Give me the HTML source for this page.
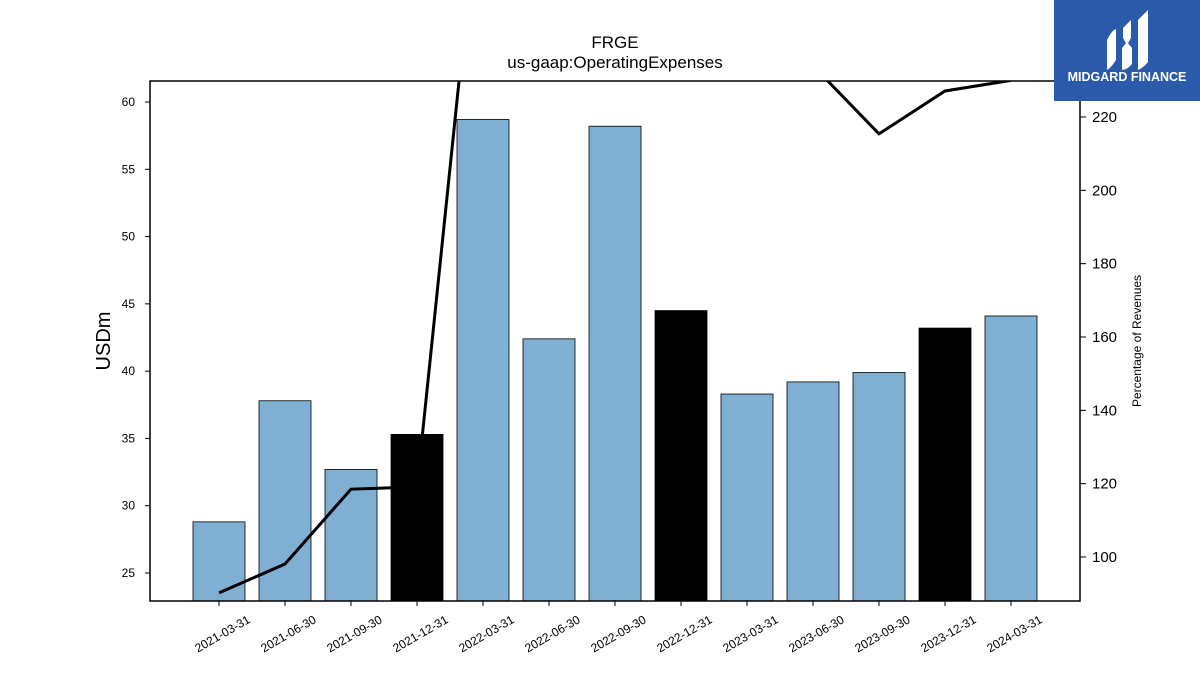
<!DOCTYPE html>
<html><head><meta charset="utf-8"><style>
html,body{margin:0;padding:0;background:#fff;}
svg{display:block;font-family:"Liberation Sans","DejaVu Sans",sans-serif;}
</style></head><body>
<svg id="chart" width="1200" height="675" viewBox="0 0 1200 675" xmlns="http://www.w3.org/2000/svg">
<defs><clipPath id="plotclip"><rect x="150" y="81" width="930" height="520"/></clipPath></defs>
<text x="615" y="48" text-anchor="middle" font-size="17">FRGE</text>
<text x="615" y="68" text-anchor="middle" font-size="17">us-gaap:OperatingExpenses</text>
<g id="bars"></g>
<g id="line" clip-path="url(#plotclip)"></g>
<rect x="150" y="81" width="930" height="520" fill="none" stroke="#000" stroke-width="1.5"/>
<g id="ticks"></g>
<text transform="translate(110,341) rotate(-90)" text-anchor="middle" font-size="20">USDm</text>
<text transform="translate(1141,341) rotate(-90)" text-anchor="middle" font-size="12">Percentage of Revenues</text>
<g>
<rect x="1054" y="0" width="146" height="101" fill="#2c5aab"/>
<path d="M1107,40 Q1112,30 1116,29 L1116,60 Q1111,68 1107,70 Z" fill="#fff"/>
<path d="M1123,28 L1131,20 L1131,38 L1127,45 L1123,38 Z" fill="#fff"/>
<path d="M1122,48 L1127,42 L1132,48 L1132,64 Q1127,70 1122,70 Z" fill="#fff"/>
<path d="M1138,20 L1148,10 L1148,62 Q1143,68 1138,70 Z" fill="#fff"/>
<text x="1127" y="81" text-anchor="middle" font-size="12.5" font-weight="bold" fill="#fff">MIDGARD FINANCE</text>
</g>
</svg>
<script>
const categories = ["2021-03-31","2021-06-30","2021-09-30","2021-12-31","2022-03-31","2022-06-30","2022-09-30","2022-12-31","2023-03-31","2023-06-30","2023-09-30","2023-12-31","2024-03-31"];
const opex = [28.8,37.8,32.7,35.3,58.7,42.4,58.2,44.5,38.3,39.2,39.9,43.2,44.1];
const pctRevenue = [90.2,98.1,118.5,119.1,293,280,270,260,250,234,215.4,227.1,230];
const isQ4 = [false,false,false,true,false,false,false,true,false,false,false,true,false];
const leftTicks = [25,30,35,40,45,50,55,60];
const rightTicks = [100,120,140,160,180,200,220];

const NS="http://www.w3.org/2000/svg";
const yL = v => 573 - (v-25)*(471/35);
const yR = v => 557 - (v-100)*(440/120);
const xC = i => 219 + i*66;
const barW = 52;
function mk(tag, attrs, parent){const e=document.createElementNS(NS,tag);for(const k in attrs)e.setAttribute(k,attrs[k]);parent.appendChild(e);return e;}
const bars=document.getElementById('bars'), line=document.getElementById('line'), ticks=document.getElementById('ticks');
opex.forEach((v,i)=>{
  const r=mk('rect',{x:xC(i)-barW/2,y:yL(v),width:barW,height:601-yL(v),fill:isQ4[i]?'#000':'#7fb0d3',stroke:'#000','stroke-width':0.8},bars);
  
  
});
const pl=mk('polyline',{points:pctRevenue.map((v,i)=>xC(i)+','+yR(v)).join(' '),fill:'none',stroke:'#000','stroke-width':3,'stroke-linejoin':'miter'},line);


leftTicks.forEach(t=>{
  mk('line',{x1:145,x2:150,y1:yL(t),y2:yL(t),stroke:'#000','stroke-width':1},ticks);
  const tx=mk('text',{x:135,y:yL(t)+4,'text-anchor':'end','font-size':12},ticks);
  tx.textContent=t;
  
  
});
rightTicks.forEach(t=>{
  mk('line',{x1:1080,x2:1086,y1:yR(t),y2:yR(t),stroke:'#000','stroke-width':1},ticks);
  const tx=mk('text',{x:1092,y:yR(t)+5,'font-size':15},ticks);
  tx.textContent=t;
  
  
});
categories.forEach((c,i)=>{
  mk('line',{x1:xC(i),x2:xC(i),y1:601,y2:606,stroke:'#000','stroke-width':1},ticks);
  const tx=mk('text',{transform:`translate(${xC(i)+32},${622}) rotate(-30)`,'text-anchor':'end','font-size':12},ticks);
  tx.textContent=c;
  
  
});
</script>
</body></html>
